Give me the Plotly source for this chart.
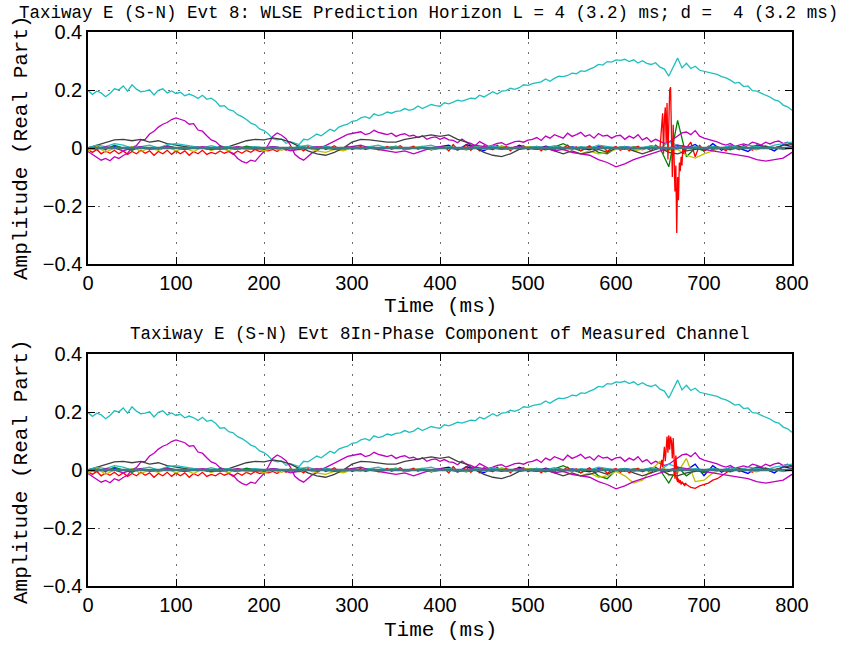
import numpy as np
import plotly.graph_objects as go

# ---------------- data ----------------
t5 = np.arange(0, 801, 5)      # 161 samples
t10 = np.arange(0, 801, 10)    # 81 samples
t_burst = np.arange(650, 681, 1)  # 31 samples

x_ticks = [0, 100, 200, 300, 400, 500, 600, 700, 800]
y_ticks = [-0.4, -0.2, 0, 0.2, 0.4]

cyan_main = [
    0.198, 0.185, 0.196, 0.19, 0.177, 0.188, 0.204, 0.2, 0.214, 0.196, 0.218, 0.203, 0.194, 0.196, 0.201, 0.183, 0.199, 0.204, 0.19, 0.197, 0.188,
    0.192, 0.18, 0.186, 0.18, 0.171, 0.182, 0.168, 0.172, 0.161, 0.144, 0.146, 0.132, 0.128, 0.115, 0.108, 0.098, 0.086, 0.08, 0.066, 0.06,
    0.048, 0.032, 0.028, 0.031, 0.016, 0.022, 0.018, 0.012, 0.03, 0.028, 0.038, 0.048, 0.042, 0.052, 0.065, 0.058, 0.072, 0.078, 0.082, 0.092,
    0.094, 0.104, 0.108, 0.102, 0.118, 0.112, 0.116, 0.124, 0.12, 0.126, 0.128, 0.136, 0.13, 0.134, 0.145, 0.136, 0.142, 0.15, 0.146, 0.144,
    0.156, 0.152, 0.158, 0.165, 0.162, 0.168, 0.172, 0.17, 0.182, 0.176, 0.184, 0.194, 0.186, 0.196, 0.198, 0.206, 0.202, 0.208, 0.218, 0.216,
    0.222, 0.226, 0.228, 0.238, 0.23, 0.24, 0.248, 0.246, 0.25, 0.258, 0.256, 0.266, 0.264, 0.272, 0.278, 0.288, 0.286, 0.298, 0.296, 0.304,
    0.302, 0.306, 0.298, 0.304, 0.293, 0.301, 0.292, 0.288, 0.294, 0.279, 0.272, 0.248, 0.28, 0.31, 0.276, 0.292, 0.274, 0.282, 0.268, 0.264,
    0.262, 0.257, 0.254, 0.246, 0.242, 0.234, 0.224, 0.226, 0.212, 0.214, 0.198, 0.196, 0.188, 0.182, 0.176, 0.166, 0.162, 0.148, 0.142, 0.13,
]

magenta_a = [
    -0.012, -0.022, -0.03, -0.042, -0.036, -0.044, -0.03, -0.036, -0.026, -0.018, 0.002, 0.008, 0.027, 0.03, 0.048, 0.058, 0.072, 0.082, 0.088, 0.098, 0.104,
    0.1, 0.094, 0.082, 0.084, 0.062, 0.058, 0.042, 0.028, 0.022, 0.008, 0.002, -0.012, -0.018, -0.036, -0.046, -0.052, -0.042, -0.046, -0.028, -0.012,
    0.012, 0.04, 0.052, 0.044, 0.032, 0.01, -0.022, -0.034, -0.042, -0.028, -0.016, -0.01, 0.002, 0.008, 0.016, 0.022, 0.03, 0.038, 0.047, 0.05,
    0.052, 0.056, 0.046, 0.05, 0.061, 0.054, 0.05, 0.046, 0.051, 0.04, 0.046, 0.049, 0.041, 0.044, 0.036, 0.042, 0.03, 0.036, 0.038, 0.03,
    0.036, 0.028, 0.026, 0.018, 0.031, 0.02, 0.016, 0.008, 0.022, 0.014, 0.006, 0.01, 0.016, 0.018, 0.01, 0.016, 0.022, 0.024, 0.02, 0.027,
    0.03, 0.036, 0.026, 0.041, 0.034, 0.046, 0.04, 0.034, 0.051, 0.04, 0.046, 0.054, 0.04, 0.046, 0.034, 0.05, 0.041, 0.044, 0.034, 0.042,
    0.044, 0.03, 0.041, 0.034, 0.046, 0.028, 0.036, 0.021, 0.03, 0.024, 0.016, 0.02, 0.031, 0.042, 0.052, 0.055, 0.046, 0.06, 0.041, 0.034,
    0.03, 0.024, 0.021, 0.014, 0.01, 0.016, 0.006, 0.01, 0.014, 0.01, 0.02, 0.016, 0.01, 0.02, 0.014, 0.021, 0.024, 0.015, 0.02, 0.01,
]

magenta_b = [
    0.0, -0.005, 0.005, 0.0, -0.01, 0.0, 0.005, -0.005, 0.0, 0.005, 0.0,
    -0.005, 0.0, 0.005, 0.0, -0.005, 0.0, 0.005, 0.0, -0.005, 0.0,
    0.005, 0.0, -0.01, -0.005, 0.0, 0.005, 0.0, -0.005, 0.0, 0.005,
    0.01, 0.0, -0.005, -0.01, -0.015, -0.01, -0.02, -0.01, 0.0, 0.005,
    0.0, -0.005, 0.0, 0.01, 0.005, 0.0, -0.005, 0.0, 0.005, 0.0,
    -0.005, 0.0, -0.01, -0.005, -0.015, -0.02, -0.025, -0.04, -0.05, -0.065,
    -0.055, -0.04, -0.03, -0.02, -0.01, 0.0, 0.01, 0.005, 0.0, -0.005,
    -0.01, -0.015, -0.02, -0.025, -0.03, -0.04, -0.045, -0.04, -0.035, -0.015,
]

black_tap = [
    0.0, 0.01, 0.02, 0.028, 0.03, 0.025, 0.03, 0.02, 0.025, 0.015, 0.01,
    0.005, 0.0, 0.0, -0.005, 0.0, 0.005, 0.015, 0.025, 0.03, 0.028,
    0.035, 0.03, 0.02, 0.005, -0.01, -0.02, -0.025, -0.015, 0.0, 0.02,
    0.03, 0.028, 0.025, 0.02, 0.02, 0.03, 0.035, 0.04, 0.045, 0.04,
    0.045, 0.03, 0.02, 0.0, -0.015, -0.025, -0.03, -0.02, -0.005, 0.0,
    0.005, 0.0, -0.01, -0.02, -0.01, -0.02, -0.015, -0.005, -0.015, 0.0,
    0.005, -0.01, -0.02, -0.01, 0.0, -0.015, -0.02, -0.01, -0.005, 0.0,
    0.005, 0.0, -0.005, 0.005, 0.0, 0.01, 0.005, 0.0, 0.01, 0.015,
]

cyan_small = [
    0.0, 0.01, 0.005, 0.015, 0.01, 0.0, 0.005, 0.01, 0.0, 0.012, 0.015,
    0.01, 0.005, 0.0, 0.008, 0.0, 0.005, -0.005, 0.0, 0.005, 0.0,
    0.005, 0.0, -0.005, 0.005, 0.01, 0.0, 0.005, 0.0, -0.005, 0.005,
    0.0, 0.005, 0.01, 0.0, 0.005, -0.005, 0.0, 0.005, 0.01, 0.0,
    0.005, 0.0, -0.005, 0.005, 0.0, 0.008, 0.0, -0.005, 0.005, 0.0,
    0.005, 0.0, 0.008, 0.0, -0.005, 0.005, 0.0, 0.01, 0.005, 0.0,
    0.005, -0.005, 0.0, 0.008, 0.0, 0.02, 0.01, 0.0, 0.005, 0.0,
    0.005, 0.0, 0.008, 0.0, 0.01, 0.005, 0.0, 0.01, 0.015, 0.02,
]

red_top = [
    -0.005, -0.015, -0.005, -0.02, -0.01, -0.018, -0.008, -0.02, -0.01, -0.022, -0.012, -0.02, -0.008, -0.018, -0.01, -0.025, -0.012, -0.02, -0.008, -0.022, -0.01,
    -0.02, -0.01, -0.025, -0.012, -0.02, -0.008, -0.022, -0.015, -0.02, -0.01, -0.018, -0.012, -0.022, -0.01, -0.018, -0.008, -0.015, -0.005, -0.012, -0.008,
    -0.01, -0.005, -0.012, 0.0, -0.008, 0.005, -0.005, 0.0, -0.01, 0.005, -0.005, 0.0, 0.005, -0.005, 0.0, 0.008, -0.004, 0.0, 0.005, -0.005,
    0.0, 0.005, -0.005, 0.0, 0.004, -0.006, 0.0, 0.005, -0.004, 0.002, 0.008, -0.005, 0.0, 0.006, -0.004, 0.003, 0.0, -0.006, 0.004, 0.0,
    0.005, -0.01, 0.012, -0.005, 0.0, 0.01, -0.008, 0.005, -0.01, 0.008, 0.0, -0.006, 0.01, -0.004, 0.006, -0.01, 0.004, 0.0, 0.008, -0.006,
    0.0, 0.006, -0.01, 0.004, 0.0, -0.008, 0.006, 0.0, 0.01, -0.006, 0.004, -0.01, 0.0, 0.008, -0.005, 0.0, 0.006, -0.012, 0.0, 0.005,
    -0.008, 0.004, -0.01, 0.0, 0.006, -0.006, 0.0, -0.01, 0.01, 0.0, 0.0, 0.0, 0.0, 0.0, 0.0, 0.0, 0.02, -0.03, 0.01, -0.01,
    0.006, -0.008, 0.004, 0.0, -0.01, 0.008, 0.0, -0.006, 0.01, 0.0, -0.008, 0.005, 0.0, 0.006, -0.004, 0.0, 0.005, -0.005, 0.0, 0.004,
]

red_bottom = [
    -0.005, -0.015, -0.005, -0.02, -0.01, -0.018, -0.008, -0.02, -0.01, -0.022, -0.012, -0.02, -0.008, -0.018, -0.01, -0.025, -0.012, -0.02, -0.008, -0.022, -0.01,
    -0.02, -0.01, -0.025, -0.012, -0.02, -0.008, -0.022, -0.015, -0.02, -0.01, -0.018, -0.012, -0.022, -0.01, -0.018, -0.008, -0.015, -0.005, -0.012, -0.008,
    -0.01, -0.005, -0.012, 0.0, -0.008, 0.005, -0.005, 0.0, -0.01, 0.005, -0.005, 0.0, 0.005, -0.005, 0.0, 0.008, -0.004, 0.0, 0.005, -0.005,
    0.0, 0.005, -0.005, 0.0, 0.004, -0.006, 0.0, 0.005, -0.004, 0.002, 0.008, -0.005, 0.0, 0.006, -0.004, 0.003, 0.0, -0.006, 0.004, 0.0,
    0.005, -0.01, 0.012, -0.005, 0.0, 0.01, -0.008, 0.005, -0.01, 0.008, 0.0, -0.006, 0.01, -0.004, 0.006, -0.01, 0.004, 0.0, 0.008, -0.006,
    0.0, 0.006, -0.01, 0.004, 0.0, -0.008, 0.006, 0.0, 0.01, -0.006, 0.004, -0.01, 0.0, 0.008, -0.005, 0.0, 0.006, -0.012, 0.0, 0.005,
    -0.008, 0.004, -0.01, 0.0, 0.006, -0.006, 0.0, -0.01, 0.01, 0.0, 0.0, 0.0, 0.0, -0.04, -0.045, -0.05, -0.06, -0.063, -0.055, -0.05,
    -0.045, -0.035, -0.03, -0.02, -0.01, 0.0, 0.006, -0.006, 0.004, 0.0, -0.008, 0.005, 0.0, 0.006, -0.004, 0.0, 0.005, -0.005, 0.0, 0.004,
]

red_burst_top = [
    0.0, 0.03, 0.08, 0.12, -0.02, 0.1, 0.14, 0.02, 0.155, -0.04, 0.12, 0.2, 0.21, 0.05, -0.1, 0.08,
    -0.06, -0.15, -0.06, -0.293, -0.1, -0.18, -0.05, -0.08, -0.03, -0.06, 0.01, -0.02, 0.005, -0.01, 0.0,
]
red_burst_bottom = [
    0.0, 0.02, 0.035, 0.01, 0.05, 0.08, 0.03, 0.1, 0.115, 0.06, 0.12, 0.07, 0.115, 0.1, 0.04, 0.11,
    0.02, -0.03, 0.05, -0.02, -0.04, -0.03, -0.045, -0.035, -0.05, -0.04, -0.045, -0.05, -0.055, -0.045, -0.05,
]

green_top = [
    0.0, 0.005, -0.005, 0.01, 0.0, -0.008, 0.005, 0.0, -0.005, 0.008, 0.0,
    -0.005, 0.004, 0.0, -0.006, 0.005, 0.0, -0.004, 0.006, 0.0, -0.005,
    0.004, 0.0, -0.005, 0.006, 0.0, -0.004, 0.005, 0.0, -0.006, 0.004,
    0.0, 0.005, -0.004, 0.0, 0.006, -0.005, 0.0, 0.004, -0.006, 0.0,
    0.005, 0.0, -0.006, 0.004, 0.0, -0.005, 0.006, 0.0, -0.004, 0.005,
    0.0, -0.006, 0.004, 0.015, 0.0, -0.01, 0.005, -0.015, -0.02, 0.0,
    -0.005, 0.004, 0.0, 0.006, 0.0, -0.065, 0.095, -0.03, 0.0, -0.01,
    0.005, 0.0, -0.006, 0.004, 0.0, -0.005, 0.006, 0.0, -0.004, 0.005,
]
green_bottom = [
    0.0, 0.005, -0.005, 0.01, 0.0, -0.008, 0.005, 0.0, -0.005, 0.008, 0.0,
    -0.005, 0.004, 0.0, -0.006, 0.005, 0.0, -0.004, 0.006, 0.0, -0.005,
    0.004, 0.0, -0.005, 0.006, 0.0, -0.004, 0.005, 0.0, -0.006, 0.004,
    0.0, 0.005, -0.004, 0.0, 0.006, -0.005, 0.0, 0.004, -0.006, 0.0,
    0.005, 0.0, -0.006, 0.004, 0.0, -0.005, 0.006, 0.0, -0.004, 0.005,
    0.0, -0.006, 0.004, 0.015, 0.0, -0.01, 0.005, -0.02, -0.03, 0.0,
    -0.005, 0.004, 0.0, 0.006, 0.0, -0.045, 0.01, -0.02, 0.0, -0.01,
    0.005, 0.0, -0.006, 0.004, 0.0, -0.005, 0.006, 0.0, -0.004, 0.005,
]

yellow_top = [
    -0.01, 0.005, -0.015, 0.0, -0.01, 0.005, -0.012, 0.0, -0.008, 0.004, -0.01,
    0.0, -0.012, 0.004, -0.008, 0.0, -0.01, 0.005, -0.006, 0.0, -0.01,
    0.0, -0.008, 0.004, -0.006, 0.0, -0.01, -0.015, -0.005, -0.01, 0.0,
    -0.005, 0.004, -0.006, 0.0, 0.005, -0.004, 0.0, 0.006, -0.005, 0.0,
    0.005, -0.006, 0.0, 0.004, -0.005, 0.0, 0.006, -0.004, 0.0, 0.005,
    -0.005, 0.0, 0.004, -0.006, -0.015, -0.02, -0.01, -0.02, -0.015, -0.005,
    0.0, -0.01, -0.005, 0.004, 0.0, -0.01, -0.005, -0.025, -0.035, -0.02,
    -0.01, 0.0, -0.005, 0.004, 0.0, -0.006, 0.005, 0.0, -0.004, 0.0,
]
yellow_bottom = [
    -0.01, 0.005, -0.015, 0.0, -0.01, 0.005, -0.012, 0.0, -0.008, 0.004, -0.01,
    0.0, -0.012, 0.004, -0.008, 0.0, -0.01, 0.005, -0.006, 0.0, -0.01,
    0.0, -0.008, 0.004, -0.006, 0.0, -0.01, -0.015, -0.005, -0.01, 0.0,
    -0.005, 0.004, -0.006, 0.0, 0.005, -0.004, 0.0, 0.006, -0.005, 0.0,
    0.005, -0.006, 0.0, 0.004, -0.005, 0.0, 0.006, -0.004, 0.0, 0.005,
    -0.005, 0.0, 0.004, -0.006, -0.015, -0.02, -0.01, -0.025, -0.02, -0.005,
    -0.02, -0.045, -0.035, 0.0, 0.03, -0.02, -0.01, 0.04, -0.04, -0.035,
    -0.01, 0.0, -0.005, 0.004, 0.0, -0.006, 0.005, 0.0, -0.004, 0.0,
]

blue_top = [
    0.0, 0.004, -0.003, 0.005, 0.0, -0.004, 0.003, 0.0, -0.005, 0.004, 0.0,
    -0.003, 0.004, 0.0, -0.004, 0.003, 0.0, -0.005, 0.004, 0.0, -0.003,
    0.004, 0.0, -0.004, 0.005, 0.0, -0.003, 0.004, 0.0, -0.005, 0.003,
    0.0, 0.004, -0.003, 0.0, 0.005, -0.004, 0.0, 0.003, -0.004, 0.005,
    0.01, -0.008, 0.012, 0.0, -0.01, 0.008, 0.0, -0.006, 0.01, 0.0,
    -0.004, 0.006, 0.0, -0.005, 0.004, 0.0, -0.006, 0.005, 0.0, -0.004,
    0.005, 0.0, -0.004, 0.006, 0.0, -0.005, 0.004, 0.0, 0.012, -0.01,
    0.015, -0.008, 0.01, 0.0, -0.012, 0.01, 0.004, -0.01, 0.012, 0.005,
]
blue_bottom = [
    0.0, 0.004, -0.003, 0.005, 0.0, -0.004, 0.003, 0.0, -0.005, 0.004, 0.0,
    -0.003, 0.004, 0.0, -0.004, 0.003, 0.0, -0.005, 0.004, 0.0, -0.003,
    0.004, 0.0, -0.004, 0.005, 0.0, -0.003, 0.004, 0.0, -0.005, 0.003,
    0.0, 0.004, -0.003, 0.0, 0.005, -0.004, 0.0, 0.003, -0.004, 0.005,
    0.01, -0.008, 0.012, 0.0, -0.01, 0.008, 0.0, -0.006, 0.01, 0.0,
    -0.004, 0.006, 0.0, -0.005, 0.004, 0.0, -0.006, 0.005, 0.0, -0.004,
    0.005, 0.0, -0.004, 0.006, 0.0, -0.005, 0.004, 0.0, 0.02, -0.02,
    0.015, -0.008, 0.01, 0.0, -0.012, 0.01, 0.004, -0.01, 0.012, 0.005,
]

zero_line = [0.0, 0.0]
zero_t = [0, 800]

titles = [
    "Taxiway E (S-N) Evt 8: WLSE Prediction Horizon L = 4 (3.2) ms; d =  4 (3.2 ms)",
    "Taxiway E (S-N) Evt 8In-Phase Component of Measured Channel",
]
xlabel = "Time (ms)"
ylabel = "Amplitude (Real Part)"

# ---------------- style ----------------
C_B, C_G, C_R, C_C, C_M, C_Y, C_K = "#0000ff", "#008000", "#ff0000", "#1fbfbf", "#bf00bf", "#bfbf00", "#404040"
C_ZERO = "#3f7a80"
LW = 1.3

fig = go.Figure()

panels = [
    ("x", "y", red_top, red_burst_top, green_top, yellow_top, blue_top),
    ("x2", "y2", red_bottom, red_burst_bottom, green_bottom, yellow_bottom, blue_bottom),
]
for xa, ya, red, burst, green, yellow, blue in panels:
    def add(x, y, c, w=LW):
        fig.add_trace(go.Scatter(x=x, y=y, mode="lines", line=dict(color=c, width=w),
                                 xaxis=xa, yaxis=ya, showlegend=False, hoverinfo="skip"))
    add(t10, blue, C_B)
    add(t10, green, C_G)
    add(t5, red, C_R)
    add(t5, cyan_main, C_C)
    add(t5, magenta_a, C_M)
    add(t10, yellow, C_Y)
    add(t10, black_tap, C_K)
    add(t10, cyan_small, C_C)
    add(t10, magenta_b, C_M)
    add(t_burst, burst, C_R)
    add(zero_t, zero_line, C_ZERO, 2.5)

W, H = 844, 646
ml, mr, mt, mb = 88, 52, 32, 60
ph = H - mt - mb
top_dom = [(586 - 264) / ph, 1.0]
bot_dom = [0.0, (586 - 354) / ph]

def px_x(px):
    return (px - ml) / (W - ml - mr)

def px_y(py):
    return (586 - py) / ph

axis_common = dict(
    showline=True, linecolor="black", linewidth=1.5, mirror="ticks",
    ticks="inside", ticklen=7, tickcolor="black", tickwidth=1,
    showgrid=True, gridcolor="#6f6f6f", griddash="2px,8px", gridwidth=1,
    zeroline=False, tickfont=dict(family="Liberation Sans, Arial, sans-serif", size=20, color="black"),
)

fig.update_layout(
    width=W, height=H,
    margin=dict(l=ml, r=mr, t=mt, b=mb),
    paper_bgcolor="white", plot_bgcolor="white",
    xaxis=dict(domain=[0, 1], anchor="y", range=[0, 800], tickvals=x_ticks, **axis_common),
    yaxis=dict(domain=top_dom, anchor="x", range=[-0.4, 0.4], tickvals=y_ticks, tickformat=".1~f", **axis_common),
    xaxis2=dict(domain=[0, 1], anchor="y2", range=[0, 800], tickvals=x_ticks, **axis_common),
    yaxis2=dict(domain=bot_dom, anchor="x2", range=[-0.4, 0.4], tickvals=y_ticks, tickformat=".1~f", **axis_common),
)

mono = "Liberation Mono, Courier New, monospace"
ann = [
    dict(text=titles[0], x=px_x(428), y=px_y(13), size=17.5),
    dict(text=titles[1], x=px_x(440), y=px_y(334), size=17.5),
    dict(text=xlabel, x=px_x(440), y=px_y(306), size=21),
    dict(text=xlabel, x=px_x(440), y=px_y(630), size=21),
]
for a in ann:
    fig.add_annotation(text=a["text"], x=a["x"], y=a["y"], xref="paper", yref="paper",
                       xanchor="center", yanchor="middle", showarrow=False,
                       font=dict(family=mono, size=a["size"], color="black"))
for yc in (148, 472):
    fig.add_annotation(text=ylabel, x=px_x(21), y=px_y(yc), xref="paper", yref="paper",
                       xanchor="center", yanchor="middle", showarrow=False, textangle=-90,
                       font=dict(family=mono, size=21, color="black"))

fig.write_html("out.html")
